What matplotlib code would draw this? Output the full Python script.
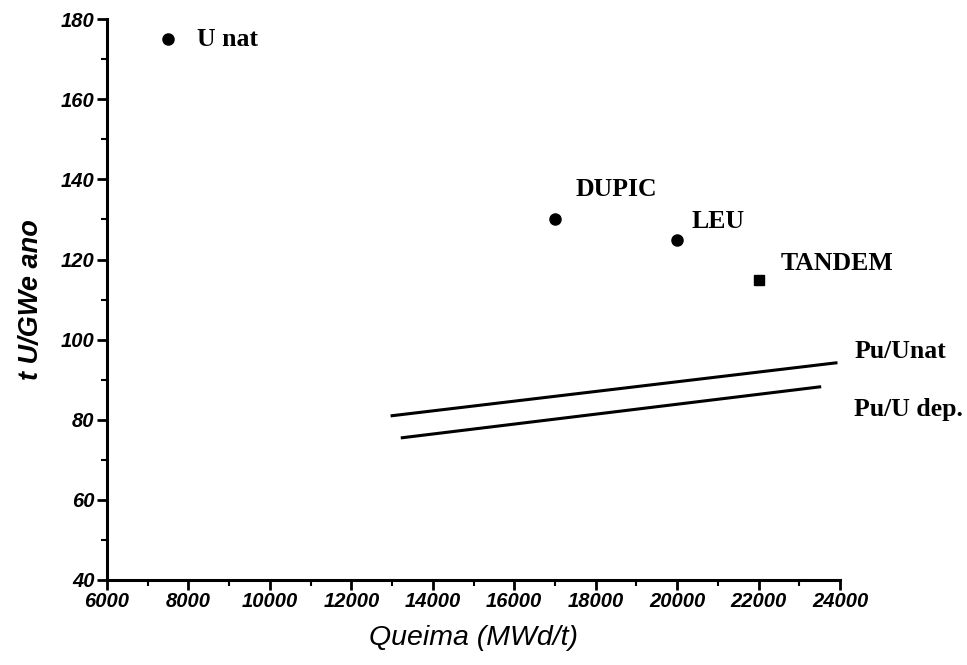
import matplotlib.pyplot as plt
from matplotlib.ticker import MultipleLocator

# fuel cycles: burnup (MWd/t) vs natural uranium need (t U/GWe ano)
names = ["U nat", "DUPIC", "LEU", "TANDEM"]
burnup = [7500, 17000, 20000, 22000]
uranium = [175, 130, 125, 115]
markers = ["o", "o", "o", "s"]
label_pos = [(8200, 175), (17500, 137.5), (20350, 129.5), (22550, 119)]

# Pu recycling lines
pu_unat_x = [13000, 23900]
pu_unat_y = [81, 94.2]
pu_udep_x = [13250, 23500]
pu_udep_y = [75.5, 88.2]
line_names = ["Pu/Unat", "Pu/U dep."]
line_label_pos = [(24350, 97), (24350, 82.5)]

serif = {"family": "Liberation Serif", "weight": "bold", "size": 18.5}
tickfont = {"family": "Liberation Sans", "weight": "bold", "style": "italic"}

fig = plt.figure(figsize=(9.67, 6.65), dpi=100)
ax = fig.add_axes([0.1107, 0.128, 0.758, 0.843])

for x, y, m in zip(burnup, uranium, markers):
    ax.plot(x, y, m, color="black", ms=8 if m == "o" else 7, clip_on=False)
for name, (tx, ty) in zip(names, label_pos):
    ax.text(tx, ty, name, va="center", ha="left", fontdict=serif)

ax.plot(pu_unat_x, pu_unat_y, "-", color="black", lw=2.2)
ax.plot(pu_udep_x, pu_udep_y, "-", color="black", lw=2.2)
for name, (tx, ty) in zip(line_names, line_label_pos):
    ax.text(tx, ty, name, va="center", ha="left", fontdict=serif, clip_on=False)

ax.set_xlim(6000, 24000)
ax.set_ylim(40, 180)
ax.xaxis.set_major_locator(MultipleLocator(2000))
ax.xaxis.set_minor_locator(MultipleLocator(1000))
ax.yaxis.set_major_locator(MultipleLocator(20))
ax.yaxis.set_minor_locator(MultipleLocator(10))

for side in ["top", "right"]:
    ax.spines[side].set_visible(False)
for side in ["left", "bottom"]:
    ax.spines[side].set_linewidth(2.2)

ax.tick_params(which="major", direction="out", length=7, width=2, pad=2)
ax.tick_params(which="minor", direction="out", length=4, width=1.5)
for lbl in ax.get_xticklabels() + ax.get_yticklabels():
    lbl.set_fontproperties(tickfont)
    lbl.set_fontsize(14.5)

ax.set_xlabel("Queima (MWd/t)", family="Liberation Sans", style="italic",
              fontsize=20.5, labelpad=10)
ax.set_ylabel("t U/GWe ano", family="Liberation Sans", style="italic",
              weight="bold", fontsize=19.5, labelpad=12)

fig.savefig("out.png", dpi=100)
